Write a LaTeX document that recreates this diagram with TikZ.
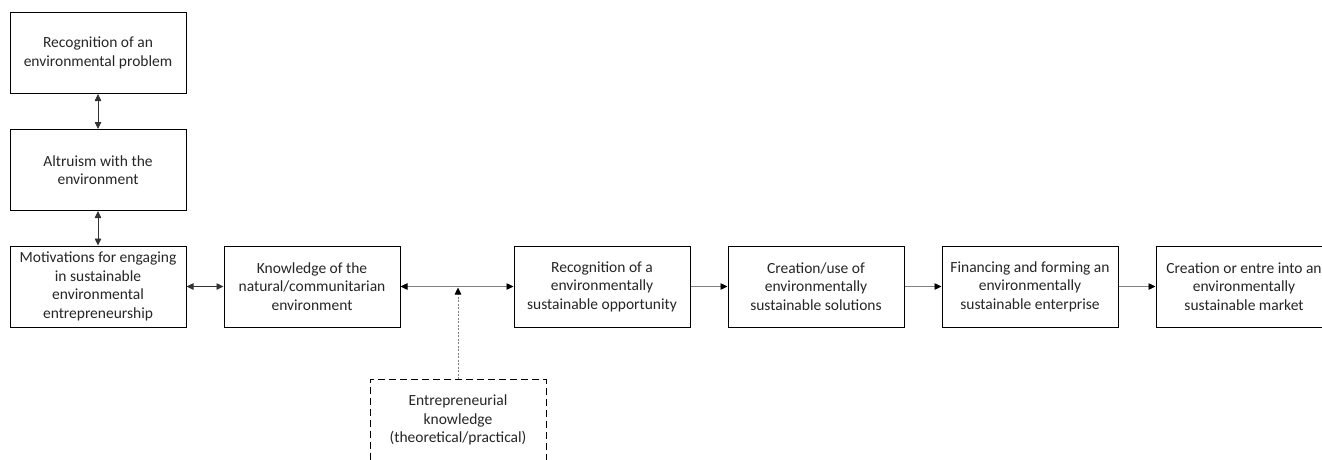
\documentclass[tikz,border=0pt]{standalone}
\usepackage{fontspec}
\setmainfont{Carlito}
\usetikzlibrary{arrows.meta}
\begin{document}
\begin{tikzpicture}[x=1pt,y=-1pt,
  box/.style={draw=black,line width=1pt,minimum width=176pt,minimum height=81pt,inner sep=0pt,align=center,font=\fontsize{15.5}{18.5}\selectfont,text=black!85},
  dbox/.style={box,dash pattern=on 7pt off 4pt},
  dark/.style={draw=black!80,line width=0.8pt,{Triangle[length=7pt,width=6.5pt]}-{Triangle[length=7pt,width=6.5pt]}},
  link/.style={draw=black!50,line width=0.7pt,-{Triangle[length=7pt,width=6.5pt,color=black]}},
  dlink/.style={draw=black!50,line width=0.7pt,{Triangle[length=7pt,width=6.5pt,color=black]}-{Triangle[length=7pt,width=6.5pt,color=black]}},
  dotlink/.style={draw=black!50,line width=0.7pt,dash pattern=on 2pt off 1.5pt,-{Triangle[length=7pt,width=6.5pt,color=black]}}
]
\path[use as bounding box, clip] (0,0) rectangle (1322,459);
\fill[white] (0,0) rectangle (1322,459);
\node[box] (rec) at (98,53) {Recognition of an\\environmental problem};
\node[box] (alt) at (98,170) {Altruism with the\\environment};
\node[box] (mot) at (98,286.5) {Motivations for engaging\\in sustainable\\environmental\\entrepreneurship};
\node[box] (kno) at (312,286.5) {Knowledge of the\\natural/communitarian\\environment};
\node[box] (opp) at (602,286.5) {Recognition of a\\environmentally\\sustainable opportunity};
\node[box] (cre) at (816,286.5) {Creation/use of\\environmentally\\sustainable solutions};
\node[box] (fin) at (1030,286.5) {Financing and forming an\\environmentally\\sustainable enterprise};
\node[box] (mkt) at (1244,286.5) {Creation or entre into an\\environmentally\\sustainable market};
\node[dbox] (ent) at (458,420) {Entrepreneurial\\knowledge\\(theoretical/practical)};
\coordinate (meet) at (458,287.5);
\draw[dark] (rec) -- (alt);
\draw[dark] (alt) -- (mot);
\draw[dark] (mot) -- (kno);
\draw[dlink] (kno) -- (opp);
\draw[dotlink] (ent) -- (meet);
\draw[link] (opp) -- (cre);
\draw[link] (cre) -- (fin);
\draw[link] (fin) -- (mkt);
\end{tikzpicture}
\end{document}
